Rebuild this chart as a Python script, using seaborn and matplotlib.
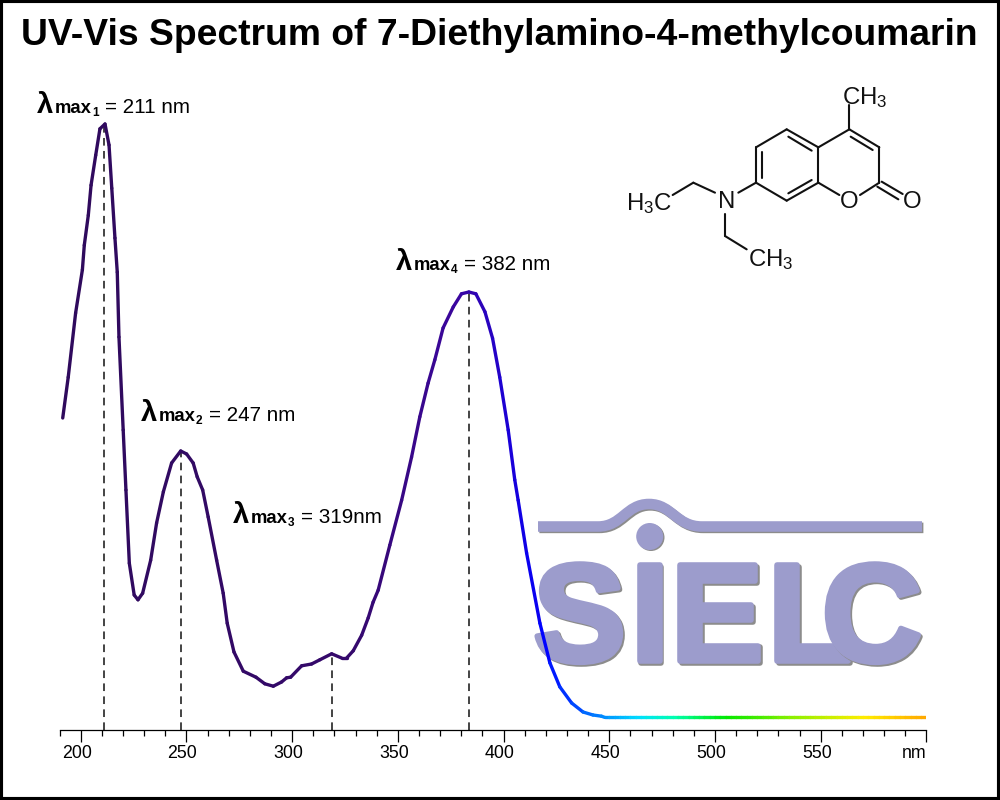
import numpy as np
import pandas as pd
import seaborn as sns
import matplotlib
matplotlib.use('Agg')
import matplotlib.pyplot as plt
import matplotlib.patheffects as pe
from matplotlib.colors import LinearSegmentedColormap
from matplotlib.patches import Circle, PathPatch, Rectangle
from matplotlib.path import Path
from matplotlib.transforms import ScaledTranslation

# spectrum
wavelength = [191.5, 194.1, 197.6, 200.8, 201.7, 203.6, 204.9, 207.1, 209.1, 211.5,
              213.4, 214.7, 216.2, 217.3, 218.1, 220.1, 221.4, 223.0, 225.3, 227.1,
              229.3, 233.1, 235.9, 239.1, 243.0, 247.3, 250.1, 253.2, 255.1, 257.7,
              260.3, 264.3, 267.4, 269.3, 272.5, 276.9, 282.9, 287.1, 291.1, 295.0,
              297.4, 299.3, 304.5, 309.2, 313.1, 318.7, 323.4, 325.8, 328.9, 332.9,
              336.0, 338.3, 340.7, 346.2, 351.8, 356.5, 360.4, 364.3, 367.5, 371.4,
              376.2, 380.1, 383.6, 386.9, 391.2, 394.8, 398.2, 402.2, 405.3, 406.9,
              410.9, 417.2, 421.9, 426.6, 432.2, 437.6, 442.3, 446.3, 447.9]
absorbance = [0.520, 0.588, 0.695, 0.767, 0.808, 0.858, 0.908, 0.958, 1.002, 1.010,
              0.975, 0.903, 0.820, 0.763, 0.655, 0.500, 0.400, 0.278, 0.225, 0.217,
              0.228, 0.283, 0.345, 0.397, 0.445, 0.465, 0.460, 0.445, 0.422, 0.400,
              0.355, 0.283, 0.228, 0.178, 0.130, 0.098, 0.088, 0.077, 0.073, 0.080,
              0.087, 0.088, 0.107, 0.110, 0.117, 0.127, 0.120, 0.120, 0.132, 0.158,
              0.187, 0.213, 0.233, 0.308, 0.383, 0.455, 0.522, 0.578, 0.617, 0.670,
              0.705, 0.727, 0.730, 0.727, 0.697, 0.653, 0.588, 0.500, 0.417, 0.383,
              0.295, 0.178, 0.112, 0.072, 0.045, 0.030, 0.025, 0.023, 0.021]
baseline_nm = [450, 452.5, 455, 457.5, 460, 462.5, 465, 467.5, 470, 472.5, 475, 477.5,
               480, 482.5, 485, 487.5, 490, 492.5, 495, 497.5, 500, 502.5, 505, 507.5,
               510, 512.5, 515, 517.5, 520, 522.5, 525, 527.5, 530, 532.5, 535, 537.5,
               540, 542.5, 545, 547.5, 550, 552.5, 555, 557.5, 560, 562.5, 565, 567.5,
               570, 572.5, 575, 577.5, 580, 582.5, 585, 587.5, 590, 592.5, 595, 597.5, 600]
baseline_abs = [0.021, 0.021, 0.021, 0.021, 0.021, 0.021, 0.021, 0.021, 0.021, 0.021,
                0.021, 0.021, 0.021, 0.021, 0.021, 0.021, 0.021, 0.021, 0.021, 0.021,
                0.021, 0.021, 0.021, 0.021, 0.021, 0.021, 0.021, 0.021, 0.021, 0.021,
                0.021, 0.021, 0.021, 0.021, 0.021, 0.021, 0.021, 0.021, 0.021, 0.021,
                0.021, 0.021, 0.021, 0.021, 0.021, 0.021, 0.021, 0.021, 0.021, 0.021,
                0.021, 0.021, 0.021, 0.021, 0.021, 0.021, 0.021, 0.021, 0.021, 0.021, 0.021]

# dropped lines under the maxima
peak_nm = [211.0, 247.3, 318.7, 383.6]
peak_abs = [1.005, 0.465, 0.127, 0.730]

major_ticks = [200, 250, 300, 350, 400, 450, 500, 550, 600]
major_labels = ['200', '250', '300', '350', '400', '450', '500', '550', 'nm']
minor_ticks = [190, 210, 220, 230, 240, 260, 270, 280, 290, 310, 320, 330, 340, 360,
               370, 380, 390, 410, 420, 430, 440, 460, 470, 480, 490, 510, 520, 530,
               540, 560, 570, 580, 590]

title = 'UV-Vis Spectrum of 7-Diethylamino-4-methylcoumarin'
lambda_numbers = ['1', '2', '3', '4']
lambda_values = ['= 211 nm', '= 247 nm', '= 319nm', '= 382 nm']
lambda_spots = [(37, 113), (141, 421), (233, 523), (396, 270)]

spectrum_cmap = LinearSegmentedColormap.from_list('spectrum', [
    (0.00, '#2f0a5c'), (0.34, '#35096c'), (0.46, '#3b06a0'), (0.52, '#1a00d8'),
    (0.56, '#0000ff'), (0.61, '#0066ff'), (0.67, '#00e0ff'), (0.71, '#00ffb0'),
    (0.77, '#00e800'), (0.85, '#90f000'), (0.93, '#ffee00'), (1.00, '#ffaa00')])

sns.set_theme(style='white')
plt.rcParams['font.family'] = ['Liberation Sans', 'DejaVu Sans']
plt.rcParams['mathtext.fontset'] = 'custom'
plt.rcParams['mathtext.rm'] = 'Liberation Sans'
plt.rcParams['mathtext.default'] = 'regular'

fig = plt.figure(figsize=(10, 8), dpi=100, facecolor='white')

# pixel overlay for the logo, the structure and the labels
page = fig.add_axes([0, 0, 1, 1], zorder=1)
page.set_xlim(0, 1000)
page.set_ylim(800, 0)
page.axis('off')

ax = fig.add_axes([0.05955, 70 / 800, 0.86685, 660 / 800], zorder=2)
ax.patch.set_alpha(0)

# logo
logo_color = '#9c9ccc'
logo_shadow = '#8c8c8c'
wave = Path([(538, 526.5), (598, 526.5), (622, 526.5), (626, 504), (649, 504),
             (672, 504), (676, 526.5), (702, 526.5), (922, 526.5)],
            [Path.MOVETO, Path.LINETO, Path.CURVE4, Path.CURVE4, Path.CURVE4,
             Path.CURVE4, Path.CURVE4, Path.CURVE4, Path.LINETO])
page.add_patch(PathPatch(wave, fill=False, ec=logo_shadow, lw=7.6, capstyle='butt',
                         transform=page.transData + ScaledTranslation(1 / 72, -1 / 72, fig.dpi_scale_trans)))
page.add_patch(PathPatch(wave, fill=False, ec=logo_color, lw=7.6, capstyle='butt'))
page.add_patch(Circle((651, 537.5), 13.5, fc=logo_shadow, ec='none'))
page.add_patch(Circle((649.7, 536.5), 13.5, fc=logo_color, ec='none'))
logo_effects = [pe.Stroke(linewidth=4, foreground=logo_shadow, offset=(1.2, -1.2), joinstyle='round'),
                pe.Stroke(linewidth=4, foreground=logo_color, joinstyle='round'),
                pe.Normal()]
for letter, x in [('S', 579.5), ('I', 649.5), ('E', 717), ('L', 810), ('C', 872)]:
    page.text(x, 661, letter, color=logo_color, fontsize=100, fontweight='bold',
              ha='center', va='baseline', path_effects=logo_effects)

# structure
bonds = [((560, 178), (655, 232)), ((655, 232), (655, 338)), ((655, 338), (560, 392)),
         ((560, 392), (468, 338)), ((468, 338), (468, 232)), ((468, 232), (560, 178)),
         ((655, 232), (748, 178)), ((748, 178), (838, 232)), ((838, 232), (838, 338)),
         ((655, 338), (718, 375)), ((780, 375), (838, 338)), ((748, 178), (748, 105)),
         ((468, 338), (415, 368)), ((345, 368), (280, 338)), ((280, 338), (218, 375)),
         ((375, 432), (375, 498)), ((375, 498), (440, 538)),
         ((565, 200), (635, 242)), ((485, 245), (485, 325)), ((565, 370), (635, 330)),
         ((752, 200), (818, 240)), ((845, 335), (908, 372)), ((832, 350), (895, 388))]
for a, b in bonds:
    page.plot([600 + a[0] / 3, 600 + b[0] / 3], [70 + a[1] / 3, 70 + b[1] / 3],
              color='#111111', lw=1.5, solid_capstyle='round')
atoms = [(865, 98, 'CH$_3$', 'center'), (649, 204, 'H$_3$C', 'center'),
         (727, 202, 'N', 'center'), (849, 202, 'O', 'center'),
         (912, 202, 'O', 'center'), (771, 260, 'CH$_3$', 'center')]
for x, y, label, align in atoms:
    page.text(x, y, label, fontsize=17.3, color='#111111', ha=align, va='center')

# maxima labels
for number, value, (x, y) in zip(lambda_numbers, lambda_values, lambda_spots):
    page.text(x, y, 'λ', fontsize=21, fontweight='bold', color='black', va='baseline')
    page.text(x + 18, y, 'max', fontsize=13.3, fontweight='bold', color='black', va='baseline')
    page.text(x + 55, y + 3, number, fontsize=8.6, fontweight='bold', color='black', va='baseline')
    page.text(x + 68, y, value, fontsize=14.9, color='black', va='baseline')

page.text(499.5, 45, title, fontsize=26.8, fontweight='bold', color='black',
          ha='center', va='baseline')
page.add_patch(Rectangle((0, 0), 1000, 800, fill=False, ec='black', lw=4.4))

# spectrum, one short piece per colour
nm = np.array(wavelength + baseline_nm)
ab = np.array(absorbance + baseline_abs)
pieces = pd.DataFrame({
    'nm': np.column_stack([nm[:-1], nm[1:]]).ravel(),
    'abs': np.column_stack([ab[:-1], ab[1:]]).ravel(),
    'piece': np.repeat(np.arange(len(nm) - 1), 2),
})
palette = {i: spectrum_cmap(((nm[i] + nm[i + 1]) / 2 - 190) / 410) for i in range(len(nm) - 1)}
sns.lineplot(data=pieces, x='nm', y='abs', hue='piece', palette=palette, estimator=None,
             sort=False, legend=False, lw=2.4, solid_capstyle='round', ax=ax)

ax.vlines(peak_nm, 0, peak_abs, color='#111111', lw=1.1, linestyles=(0, (5, 3.5)), zorder=1)

ax.set_xlim(190, 600)
ax.set_ylim(0, 1.1)
ax.set_xlabel('')
ax.set_ylabel('')
ax.set_yticks([])
ax.set_xticks(major_ticks)
ax.set_xticklabels(major_labels)
ax.set_xticks(minor_ticks, minor=True)
ax.tick_params(axis='x', which='major', bottom=True, length=8.6, width=0.9, color='black',
               labelsize=12.8, labelcolor='black', pad=2)
ax.tick_params(axis='x', which='minor', bottom=True, length=4.3, width=0.9, color='black')
for side in ['top', 'left', 'right']:
    ax.spines[side].set_visible(False)
ax.spines['bottom'].set_color('black')
ax.spines['bottom'].set_linewidth(0.9)

nudge = ScaledTranslation(-4 / 100, 0, fig.dpi_scale_trans)
nudge_nm = ScaledTranslation(-12 / 100, 0, fig.dpi_scale_trans)
for tick, label in zip(ax.get_xticklabels(), major_labels):
    tick.set_transform(tick.get_transform() + (nudge_nm if label == 'nm' else nudge))

fig.savefig('out.png', dpi=100)
